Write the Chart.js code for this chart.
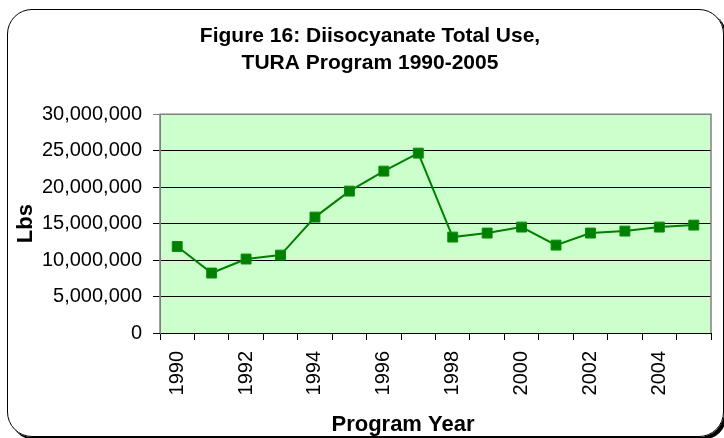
<!DOCTYPE html>
<html>
    <head>
        <title>Diisocyanate Total Use</title>
        <script src="https://cdnjs.cloudflare.com/ajax/libs/Chart.js/4.4.1/chart.umd.min.js"></script>
        <style>
            body { margin: 0; background: #fff; }
            #frame {
                position: absolute; left: 7px; top: 9px; width: 715px; height: 426px;
                border: 1px solid #000; border-radius: 25px; box-shadow: 3px 3px 0 #000;
            }
            #chart { position: absolute; left: 0; top: 0; }
        </style>
        <script>
            const titleLines = ['Figure 16: Diisocyanate Total Use,', 'TURA Program 1990-2005'];
            const xTitle = 'Program Year';
            const yTitle = 'Lbs';

            const years = ['1990', '1991', '1992', '1993', '1994', '1995', '1996', '1997',
                           '1998', '1999', '2000', '2001', '2002', '2003', '2004', '2005'];
            // only every other year gets a label on the axis
            const yearTickLabels = ['1990', '', '1992', '', '1994', '', '1996', '',
                                    '1998', '', '2000', '', '2002', '', '2004', ''];
            const totalUse = [11860000, 8220000, 10140000, 10680000, 15890000, 19450000, 22190000, 24660000,
                              13150000, 13700000, 14520000, 12050000, 13700000, 13970000, 14520000, 14790000];

            const yMin = 0;
            const yMax = 30000000;
            const yStep = 5000000;

            const fontFamily = '"Liberation Sans", Arial, sans-serif';

            const plotDecor = {
                id: 'plotDecor',
                beforeDraw(chart) {
                    const a = chart.chartArea;
                    const ctx = chart.ctx;
                    ctx.save();
                    ctx.fillStyle = '#CCFFCC';
                    ctx.fillRect(a.left, a.top, a.right - a.left, a.bottom - a.top);
                    ctx.restore();
                },
                beforeDatasetsDraw(chart) {
                    const a = chart.chartArea;
                    const ctx = chart.ctx;
                    ctx.save();
                    ctx.strokeStyle = '#808080';
                    ctx.lineWidth = 1.5;
                    ctx.beginPath();
                    ctx.moveTo(a.left, a.bottom);
                    ctx.lineTo(a.left, a.top);
                    ctx.lineTo(a.right, a.top);
                    ctx.lineTo(a.right, a.bottom);
                    ctx.stroke();
                    ctx.restore();
                },
                afterDraw(chart) {
                    const ctx = chart.ctx;
                    const a = chart.chartArea;
                    ctx.save();
                    ctx.fillStyle = '#000';
                    ctx.font = 'bold 22px ' + fontFamily;
                    ctx.textAlign = 'center';
                    ctx.textBaseline = 'alphabetic';
                    ctx.fillText(xTitle, 403, 431);
                    ctx.translate(26, (a.top + a.bottom) / 2);
                    ctx.rotate(-Math.PI / 2);
                    ctx.textBaseline = 'middle';
                    ctx.fillText(yTitle, 0, 0);
                    ctx.restore();
                }
            };

            function loaded()
            {
                const ctx = document.getElementById('chart');
                new Chart(ctx, {
                    type: 'line',
                    plugins: [plotDecor],
                    data: {
                        labels: years,
                        datasets: [{
                            label: 'Total Use',
                            data: totalUse,
                            borderColor: '#008000',
                            backgroundColor: '#008000',
                            borderWidth: 2,
                            tension: 0,
                            pointStyle: 'rect',
                            pointRadius: 7,
                            pointHoverRadius: 7,
                            pointBorderWidth: 1,
                            pointBackgroundColor: '#008000',
                            pointBorderColor: '#0a8a0a'
                        }]
                    },
                    options: {
                        responsive: false,
                        animation: false,
                        layout: {
                            padding: { left: 29, right: 13, top: 0, bottom: 0 }
                        },
                        plugins: {
                            legend: { display: false },
                            tooltip: { enabled: false },
                            title: {
                                display: true,
                                text: titleLines,
                                color: '#000',
                                font: { family: fontFamily, size: 21, weight: 'bold', lineHeight: 1.29 },
                                padding: { top: 23, bottom: 37 }
                            }
                        },
                        scales: {
                            x: {
                                type: 'category',
                                offset: true,
                                afterFit: function(scale) {
                                    scale.height = 105;
                                    // keep rotated labels from pulling the plot in
                                    scale.paddingLeft = 0;
                                    scale.paddingRight = 0;
                                },
                                grid: {
                                    display: true,
                                    offset: true,
                                    drawOnChartArea: false,
                                    drawTicks: true,
                                    tickLength: 7,
                                    color: '#000'
                                },
                                border: { display: true, color: '#000', width: 1 },
                                ticks: {
                                    autoSkip: false,
                                    minRotation: 90,
                                    maxRotation: 90,
                                    padding: 11,
                                    color: '#000',
                                    font: { family: fontFamily, size: 20 },
                                    callback: function(value, index) {
                                        return yearTickLabels[index];
                                    }
                                }
                            },
                            y: {
                                min: yMin,
                                max: yMax,
                                afterFit: function(scale) { scale.width = 131; },
                                grid: {
                                    drawTicks: true,
                                    tickLength: 7,
                                    color: function(c) {
                                        return c.tick && c.tick.value === yMax ? '#808080' : '#000';
                                    },
                                    lineWidth: 1
                                },
                                border: { display: true, color: '#808080', width: 1 },
                                ticks: {
                                    stepSize: yStep,
                                    padding: 11,
                                    color: '#000',
                                    font: { family: fontFamily, size: 20 },
                                    callback: function(value) {
                                        return value.toLocaleString('en-US');
                                    }
                                }
                            }
                        }
                    }
                });
            }

            window.addEventListener('load', loaded, true);
        </script>
    </head>
    <body>
        <div id="frame"></div>
        <canvas id="chart" width="724" height="438"></canvas>
    </body>
</html>
